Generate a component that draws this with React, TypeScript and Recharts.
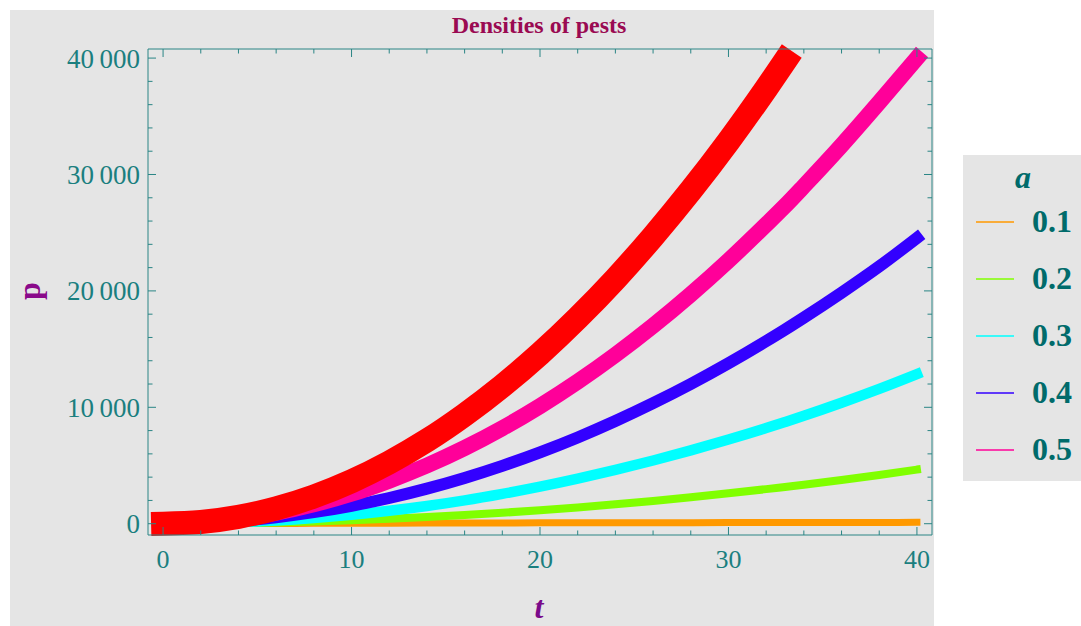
import React from 'react';
import { LineChart, Line, XAxis, YAxis, Legend } from 'recharts';

// ---- data ----
const tValues = [0, 2, 4, 6, 8, 10, 12, 14, 16, 18, 20, 22, 24, 26, 28, 30, 32, 33, 34, 36, 38, 40];
const pA01 = [0, 8, 16, 24, 32, 40, 47, 54, 60, 66, 72, 77, 82, 87, 92, 96, 100, 102, 104, 108, 112, 115];
const pA02 = [0, 12, 46, 104, 185, 290, 420, 570, 740, 940, 1160, 1400, 1670, 1960, 2270, 2610, 2970, 3160, 3350, 3760, 4190, 4650];
const pA03 = [0, 30, 120, 270, 490, 770, 1110, 1520, 2000, 2560, 3180, 3870, 4620, 5430, 6300, 7230, 8220, 8740, 9270, 10390, 11580, 12850];
const pA04 = [0, 60, 250, 560, 990, 1540, 2210, 3010, 3930, 4970, 6130, 7410, 8820, 10350, 12000, 13780, 15680, 16670, 17700, 19840, 22100, 24550];
const pA05 = [0, 110, 430, 950, 1670, 2580, 3700, 5000, 6500, 8200, 10100, 12200, 14500, 17000, 19700, 22600, 25700, 27300, 29000, 32500, 36200, 40000];
const pRed = [0, 150, 590, 1320, 2340, 3650, 5260, 7150, 9350, 11830, 14600, 17670, 21020, 24680, 28620, 32850, 37380, 39750, null, null, null, null];

const legendLabels = ['0.1', '0.2', '0.3', '0.4', '0.5'];
const seriesColors = ['#ff9900', '#80ff00', '#00ffff', '#3300ff', '#ff0099'];
const xMajorTicks = [0, 10, 20, 30, 40];
const xMinorTicks = [0, 2, 4, 6, 8, 10, 12, 14, 16, 18, 20, 22, 24, 26, 28, 30, 32, 34, 36, 38, 40];
const yMajorTicks = [0, 10000, 20000, 30000, 40000];
const yMinorTicks = [0, 2000, 4000, 6000, 8000, 10000, 12000, 14000, 16000, 18000, 20000, 22000, 24000, 26000, 28000, 30000, 32000, 34000, 36000, 38000, 40000];

const rows = tValues.map((t, i) => ({
  t,
  a1: pA01[i],
  a2: pA02[i],
  a3: pA03[i],
  a4: pA04[i],
  a5: pA05[i],
  red: pRed[i],
}));

const seriesKeys = ['a1', 'a2', 'a3', 'a4', 'a5'];
const seriesWidths = [7, 8, 10.5, 12, 16];

const FONT = '"Liberation Serif", "Times New Roman", serif';
const TEAL = '#1b7f7f';
const AXIS = '#2a8585';
const X_DOMAIN: [number, number] = [-0.8, 40.8];
const Y_DOMAIN: [number, number] = [-970, 40780];

const fmtY = (v: number) => (v === 0 ? '0' : `${v / 1000}\u2009000`);

// inner tick mark renderer: side tells which way the mark points
const makeTickMark = (side: 'bottom' | 'top' | 'left' | 'right', majors: number[]) => (props: any) => {
  const { x, y, payload } = props;
  const isMajor = majors.includes(payload.value);
  const len = isMajor ? 8 : 4.5;
  let x2 = x, y2 = y;
  if (side === 'bottom') y2 = y - len;
  if (side === 'top') y2 = y + len;
  if (side === 'left') x2 = x + len;
  if (side === 'right') x2 = x - len;
  return <line x1={x} y1={y} x2={x2} y2={y2} stroke={AXIS} strokeWidth={1} />;
};

const LegendBox = (props: any) => {
  const payload = (props.payload || []).filter((p: any) => p.type !== 'none' && p.value !== 'hidden');
  return (
    <div style={{ width: 118, height: 326, background: '#e5e5e5', position: 'relative', fontFamily: FONT, color: '#006b6b' }}>
      <div style={{ position: 'absolute', left: 0, width: 120, top: 2, textAlign: 'center', fontSize: 32, fontStyle: 'italic', fontWeight: 'bold', lineHeight: '40px' }}>a</div>
      <svg width={118} height={326} style={{ position: 'absolute', left: 0, top: 0 }}>
        {payload.map((p: any, i: number) => (
          <line key={i} x1={13} x2={51} y1={67 + i * 57} y2={67 + i * 57} stroke={p.color} strokeWidth={1.5} />
        ))}
      </svg>
      {payload.map((p: any, i: number) => (
        <div key={i} style={{ position: 'absolute', left: 69, top: 67 + i * 57 - 21, fontSize: 32, fontWeight: 'bold', lineHeight: '40px' }}>{p.value}</div>
      ))}
    </div>
  );
};

export default function App() {
  return (
    <div style={{ position: 'absolute', left: 0, top: 0, width: 1081, height: 626, background: '#ffffff' }}>
      <div style={{ position: 'absolute', left: 10, top: 10, width: 924, height: 616, background: '#e5e5e5' }} />
      <div style={{ position: 'absolute', left: 0, top: 0 }}>
        <LineChart width={1081} height={626} data={rows} margin={{ top: 49, right: 149, bottom: 31, left: 0 }}>
          {/* label axes (left / bottom frame) */}
          <XAxis xAxisId="x" dataKey="t" type="number" domain={X_DOMAIN} ticks={xMajorTicks} interval={0}
            height={60} tickLine={false} tickSize={0} tickMargin={15} stroke={AXIS}
            tick={{ fill: TEAL, fontSize: 26, fontFamily: FONT }} />
          <YAxis yAxisId="y" type="number" domain={Y_DOMAIN} ticks={yMajorTicks} interval={0}
            width={148} tickLine={false} tickSize={0} tickMargin={8} stroke={AXIS} tickFormatter={fmtY}
            tick={{ fill: TEAL, fontSize: 27, fontFamily: FONT }} />
          {/* inner tick marks */}
          <XAxis xAxisId="bTicks" dataKey="t" type="number" domain={X_DOMAIN} ticks={xMinorTicks} interval={0}
            orientation="bottom" mirror height={1} tickLine={false} tickSize={0} tickMargin={0} axisLine={false}
            tick={makeTickMark('bottom', xMajorTicks)} />
          <XAxis xAxisId="tTicks" dataKey="t" type="number" domain={X_DOMAIN} ticks={xMinorTicks} interval={0}
            orientation="top" mirror height={1} tickLine={false} tickSize={0} tickMargin={0} stroke={AXIS}
            tick={makeTickMark('top', xMajorTicks)} />
          <YAxis yAxisId="lTicks" type="number" domain={Y_DOMAIN} ticks={yMinorTicks} interval={0}
            orientation="left" mirror width={1} tickLine={false} tickSize={0} tickMargin={0} axisLine={false}
            tick={makeTickMark('left', yMajorTicks)} />
          <YAxis yAxisId="rTicks" type="number" domain={Y_DOMAIN} ticks={yMinorTicks} interval={0}
            orientation="right" mirror width={1} tickLine={false} tickSize={0} tickMargin={0} stroke={AXIS}
            tick={makeTickMark('right', yMajorTicks)} />

          {/* invisible series binding the frame axes to the data */}
          <Line xAxisId="bTicks" yAxisId="lTicks" dataKey="a5" name="hidden" legendType="none" stroke="none"
            dot={false} activeDot={false} isAnimationActive={false} />
          <Line xAxisId="tTicks" yAxisId="rTicks" dataKey="a5" name="hidden" legendType="none" stroke="none"
            dot={false} activeDot={false} isAnimationActive={false} />

          {seriesKeys.map((k, i) => (
            <Line key={k} xAxisId="x" yAxisId="y" type="monotone" dataKey={k} name={legendLabels[i]}
              stroke={seriesColors[i]} strokeWidth={seriesWidths[i]} strokeLinecap="square"
              dot={false} activeDot={false} isAnimationActive={false} />
          ))}
          <Line xAxisId="x" yAxisId="y" type="monotone" dataKey="red" name="red" legendType="none"
            stroke="#ff0000" strokeWidth={24} strokeLinecap="square"
            dot={false} activeDot={false} isAnimationActive={false} />

          <Legend layout="vertical" align="center" verticalAlign="middle" content={LegendBox}
            wrapperStyle={{ position: 'absolute', left: 963, top: 155, width: 118, height: 326 }} />

          <text x={539} y={33} textAnchor="middle" fontFamily={FONT} fontWeight="bold" fontSize={24} fill="#9a0a52">Densities of pests</text>
          <text x={40} y={291} transform="rotate(-90, 40, 291)" textAnchor="middle" fontFamily={FONT} fontWeight="bold" fontSize={32} fill="#8a0a8a">p</text>
          <text x={539} y={618} textAnchor="middle" fontFamily={FONT} fontWeight="bold" fontStyle="italic" fontSize={32} fill="#7a0a8a">t</text>
        </LineChart>
      </div>
    </div>
  );
}
